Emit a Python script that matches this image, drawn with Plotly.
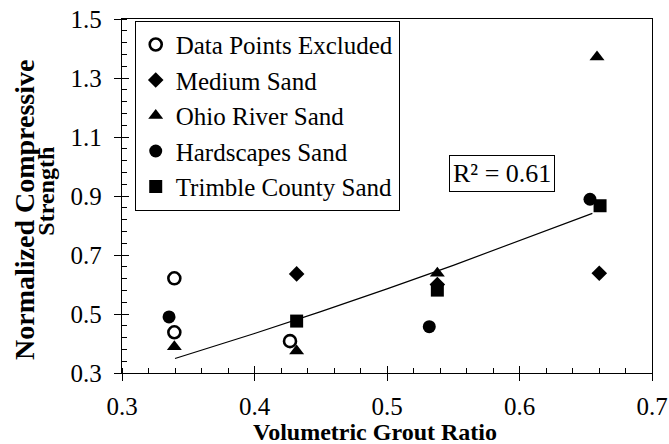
import plotly.graph_objects as go

# Volumetric grout ratio (x) vs normalized compressive strength (y)
excluded_x = [0.3395, 0.3395, 0.4268]
excluded_y = [0.621, 0.438, 0.408]

medium_x = [0.4318, 0.538, 0.6602]
medium_y = [0.636, 0.600, 0.638]

ohio_x = [0.3395, 0.4318, 0.538, 0.6585]
ohio_y = [0.389, 0.375, 0.638, 1.371]

hardscapes_x = [0.3355, 0.5319, 0.6532]
hardscapes_y = [0.490, 0.457, 0.889]

trimble_x = [0.4318, 0.538, 0.6608]
trimble_y = [0.476, 0.581, 0.867]

# Power-law trendline through the retained points
trend_x = [0.34, 0.40, 0.45, 0.50, 0.55, 0.60, 0.655]
trend_y = [0.349, 0.434, 0.508, 0.585, 0.665, 0.748, 0.841]

x_ticks = [0.3, 0.4, 0.5, 0.6, 0.7]
y_ticks = [0.3, 0.5, 0.7, 0.9, 1.1, 1.3, 1.5]

FONT = "Liberation Serif"
MS = 13

fig = go.Figure()

fig.add_trace(go.Scatter(x=trend_x, y=trend_y, mode="lines",
                         line=dict(color="black", width=1.2),
                         showlegend=False, hoverinfo="skip"))

fig.add_trace(go.Scatter(x=medium_x, y=medium_y, mode="markers", name="Medium Sand",
                         legendrank=2, legendgroup="b",
                         marker=dict(symbol="diamond", size=12, color="black")))
fig.add_trace(go.Scatter(x=ohio_x, y=ohio_y, mode="markers", name="Ohio River Sand",
                         legendrank=3, legendgroup="c",
                         marker=dict(symbol="triangle-up", size=MS, color="black")))
fig.add_trace(go.Scatter(x=hardscapes_x, y=hardscapes_y, mode="markers", name="Hardscapes Sand",
                         legendrank=4, legendgroup="d",
                         marker=dict(symbol="circle", size=MS, color="black")))
fig.add_trace(go.Scatter(x=trimble_x, y=trimble_y, mode="markers", name="Trimble County Sand",
                         legendrank=5, legendgroup="e",
                         marker=dict(symbol="square", size=MS, color="black")))
fig.add_trace(go.Scatter(x=excluded_x, y=excluded_y, mode="markers", name="Data Points Excluded",
                         legendrank=1, legendgroup="a",
                         marker=dict(symbol="circle", size=MS - 1, color="white",
                                     line=dict(color="black", width=2.6))))

# invisible trace so the inner tick overlay axes get drawn
fig.add_trace(go.Scatter(x=[0.5], y=[0.9], xaxis="x2", yaxis="y2", mode="markers",
                         marker=dict(opacity=0), showlegend=False, hoverinfo="skip"))

axis_font = dict(family=FONT, size=25, color="black")

fig.update_layout(
    width=669, height=444,
    margin=dict(l=122, r=17, t=19, b=71),
    paper_bgcolor="white", plot_bgcolor="white",
    font=dict(family=FONT, color="black"),
    showlegend=True,
    legend=dict(x=0.024, y=0.995, xanchor="left", yanchor="top",
                bgcolor="white", bordercolor="black", borderwidth=1,
                font=dict(family=FONT, size=25, color="black"),
                traceorder="grouped", tracegroupgap=0, itemwidth=30),
    xaxis=dict(range=[0.3, 0.7], tickvals=x_ticks, ticktext=[f"{v:.1f}" for v in x_ticks],
               ticks="outside", ticklen=7, tickwidth=1, tickcolor="black",
               minor=dict(dtick=0.02, tick0=0.3, ticks="inside", ticklen=5,
                          tickwidth=1, tickcolor="black", showgrid=False),
               showline=True, linecolor="black", linewidth=1.3, mirror=True,
               showgrid=False, zeroline=False, tickfont=axis_font, ticklabelstandoff=4,
               automargin=False),
    yaxis=dict(range=[0.3, 1.5], tickvals=y_ticks, ticktext=[f"{v:.1f}" for v in y_ticks],
               ticks="outside", ticklen=7, tickwidth=1, tickcolor="black",
               minor=dict(dtick=0.04, tick0=0.3, ticks="inside", ticklen=5,
                          tickwidth=1, tickcolor="black", showgrid=False),
               showline=True, linecolor="black", linewidth=1.3, mirror=True,
               showgrid=False, zeroline=False, tickfont=axis_font, ticklabelstandoff=7,
               automargin=False),
    xaxis2=dict(range=[0.3, 0.7], overlaying="x", anchor="y2", tickvals=x_ticks,
                ticks="inside", ticklen=7, tickwidth=1, tickcolor="black",
                showticklabels=False, showline=False, showgrid=False, zeroline=False,
                automargin=False),
    yaxis2=dict(range=[0.3, 1.5], overlaying="y", anchor="x2", tickvals=y_ticks,
                ticks="inside", ticklen=7, tickwidth=1, tickcolor="black",
                showticklabels=False, showline=False, showgrid=False, zeroline=False,
                automargin=False),
    annotations=[
        dict(x=0.587, y=0.976, xref="x", yref="y", text="R² = 0.61",
             showarrow=False, font=dict(family=FONT, size=26, color="black"),
             bordercolor="black", borderwidth=1, borderpad=3, bgcolor="white"),
        # axis titles
        dict(x=0.478, y=-0.1667, xref="paper", yref="paper", xanchor="center", yanchor="middle",
             text="<b>Volumetric Grout Ratio</b>", showarrow=False,
             font=dict(family=FONT, size=24, color="black")),
        dict(x=-0.183, y=0.4605, xref="paper", yref="paper", xanchor="center", yanchor="middle",
             textangle=-90, text="<b>Normalized Compressive</b>", showarrow=False,
             font=dict(family=FONT, size=28, color="black")),
        dict(x=-0.145, y=0.5127, xref="paper", yref="paper", xanchor="center", yanchor="middle",
             textangle=-90, text="<b>Strength</b>", showarrow=False,
             font=dict(family=FONT, size=24, color="black")),
    ],
)

fig.write_html("out.html")
